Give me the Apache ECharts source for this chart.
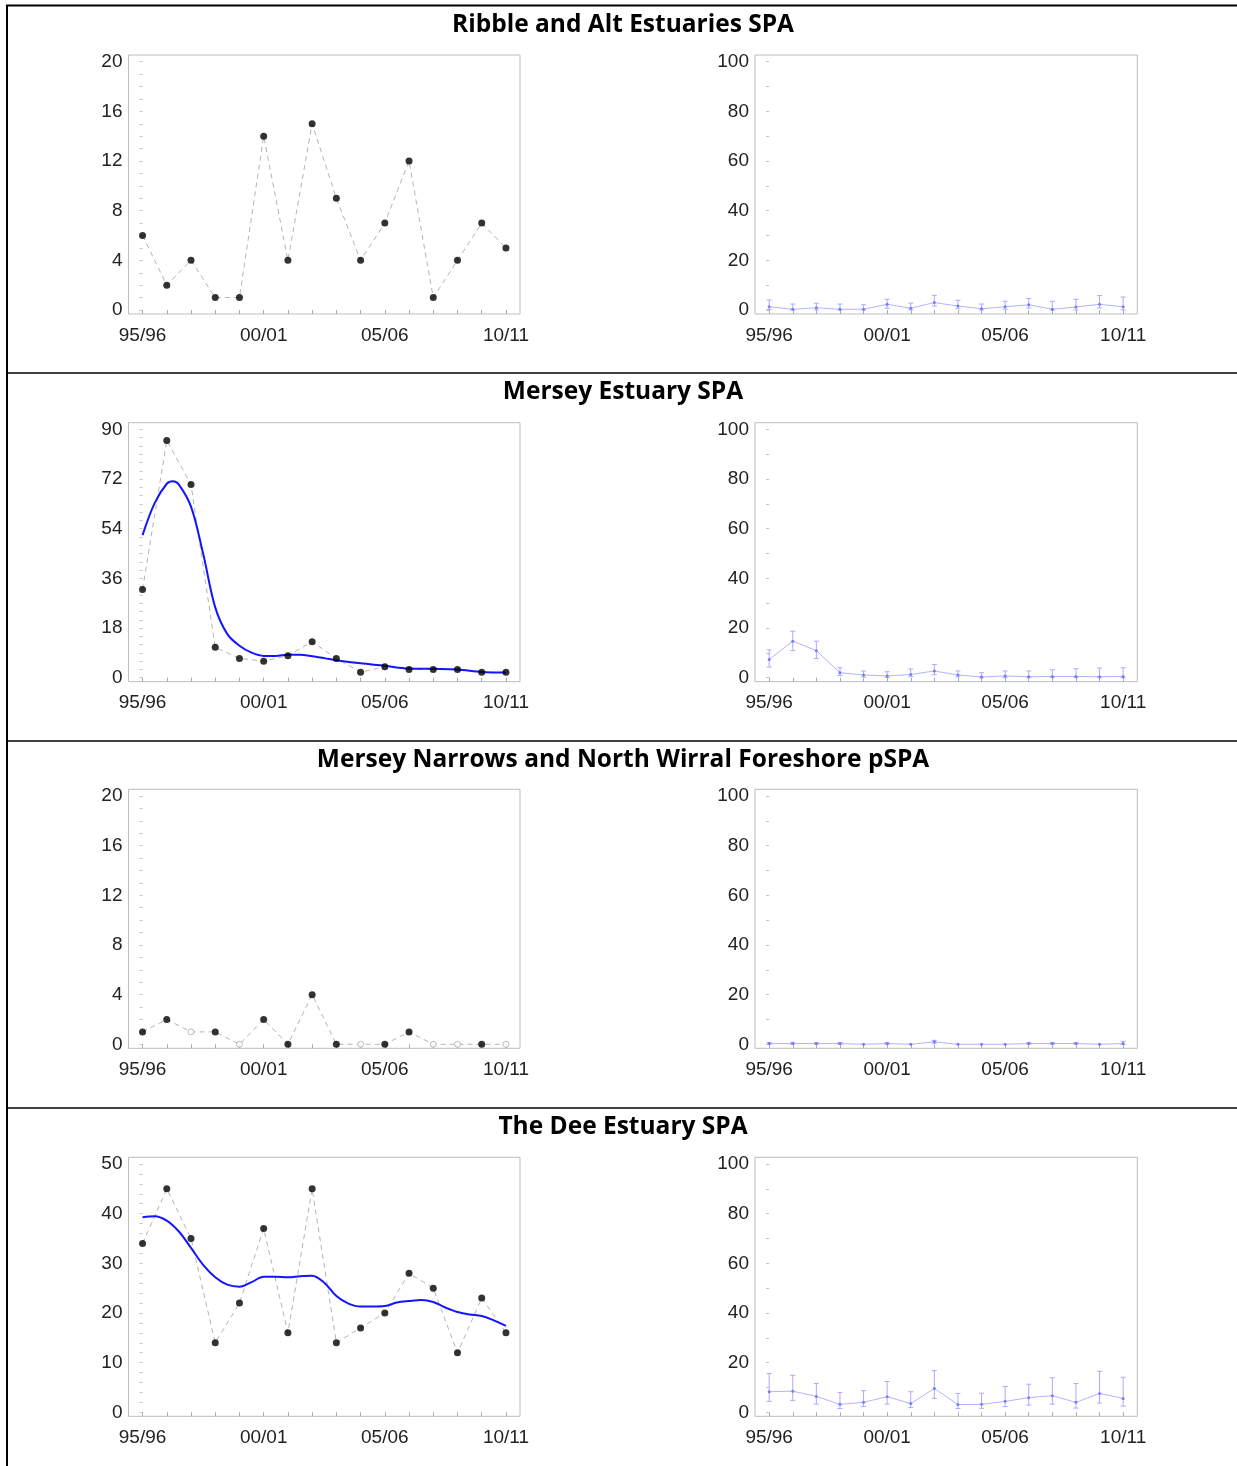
<!DOCTYPE html>
<html>
<head>
<meta charset="utf-8">
<script src="https://cdn.jsdelivr.net/npm/echarts@6/dist/echarts.min.js"></script>
<style>
html,body{margin:0;padding:0;background:#fff;}
#c{width:1237px;height:1466px;}
</style>
</head>
<body>
<div id="c"></div>
<script>
const seasons = ['95/96','96/97','97/98','98/99','99/00','00/01','01/02','02/03','03/04','04/05','05/06','06/07','07/08','08/09','09/10','10/11'];
const xLabelIdx = [0,5,10,15];
const titles = ['Ribble and Alt Estuaries SPA','Mersey Estuary SPA','Mersey Narrows and North Wirral Foreshore pSPA','The Dee Estuary SPA'];

// Left panels: counts
const ribbleCounts = [6,2,4,1,1,14,4,15,9,4,7,12,1,4,7,5];
const merseyCounts = [32,86,70,11,7,6,8,13,7,2,4,3,3,3,2,2];
// smoothed trend (x in season index units)
const merseyTrendX = [0,0.5,1,1.25,1.5,2,2.5,3,3.5,4,4.5,5,5.5,6,6.5,7,7.5,8,9,10,11,12,13,14,15];
const merseyTrend  = [51.7,63.3,70.3,71.2,70.0,62.0,45.0,25.5,15.8,11.6,9.1,7.9,7.9,8.3,8.3,7.8,7.1,6.3,5.2,4.3,3.3,3.2,3.0,2.1,1.9];
const narrowsCounts = [1,2,1,1,0,2,0,4,0,0,0,1,0,0,0,0];
const narrowsImputed = [0,0,1,0,1,0,0,0,0,1,0,0,1,1,0,1];
const deeCounts = [34,45,35,14,22,37,16,45,14,17,20,28,25,12,23,16];
const deeTrendX = [0,0.5,1,1.5,2,2.5,3,3.5,4,4.5,5,5.5,6,6.5,7,7.5,8,8.5,9,9.5,10,10.5,11,11.5,12,12.5,13,13.5,14,14.5,15];
const deeTrend  = [39.3,39.5,38.6,36.4,33.1,29.7,27.2,25.7,25.3,26.2,27.3,27.3,27.2,27.4,27.5,26.1,23.4,21.9,21.3,21.3,21.4,22.1,22.4,22.6,22.2,21.1,20.2,19.7,19.4,18.5,17.4];

// Right panels: percentages with error bars
const ribblePct   = [1.3,0.3,0.9,0.3,0.3,2.3,0.7,3.0,1.6,0.5,1.3,2.1,0.3,1.2,2.3,1.3];
const ribblePctLo = [0.2,0,0,0,0,0.7,0,1.6,0.5,0,0.3,0.8,0,0,0.8,0];
const ribblePctHi = [4.0,2.4,2.7,2.4,2.1,4.3,2.8,5.9,3.9,2.4,3.5,4.6,3.5,4.3,5.8,5.2];
const merseyPct   = [7.3,14.7,10.9,2.0,1.1,0.7,1.3,2.7,1.1,0.3,0.7,0.4,0.5,0.5,0.4,0.5];
const merseyPctLo = [4.3,10.9,7.7,0.9,0.3,0.1,0.4,1.2,0.3,0,0,0,0,0,0,0];
const merseyPctHi = [11.2,18.7,14.7,4.0,2.7,2.4,3.5,5.3,2.7,2.0,2.7,2.7,3.2,3.6,3.9,4.0];
const narrowsPct   = [0.3,0.3,0.3,0.3,0,0.3,0,1.0,0,0,0,0.3,0.3,0.3,0,0.3];
const narrowsPctLo = [0,0,0,0,0,0,0,0.4,0,0,0,0,0,0,0,0];
const narrowsPctHi = [0.7,0.8,0.7,0.7,0,0.7,0,1.6,0,0,0,0.7,0.7,0.7,0,1.2];
const deePct   = [8.3,8.5,6.4,3.2,4.0,6.3,3.5,9.6,3.1,3.2,4.4,5.9,6.7,4.0,7.6,5.6];
const deePctLo = [4.4,4.8,3.3,1.5,2.3,3.3,1.9,5.6,1.5,1.6,2.3,2.9,3.3,1.7,3.7,2.5];
const deePctHi = [15.6,14.9,11.6,8.0,8.7,12.4,8.3,16.8,7.6,7.7,10.4,11.3,13.9,11.6,16.5,14.1];

const leftMax = [20,90,20,50];
const leftStep = [4,18,4,10];
const leftMinor = [1,3,1,2];
const rightMax = [100,100,100,100];
const rightStep = [20,20,20,20];
const rightMinor = [10,10,10,10];

const countsList = [ribbleCounts, merseyCounts, narrowsCounts, deeCounts];
const trendList = [null, merseyTrend, null, deeTrend];
const trendXList = [null, merseyTrendX, null, deeTrendX];
const imputedList = [null, null, narrowsImputed, null];
const pctList = [ribblePct, merseyPct, narrowsPct, deePct];
const pctLoList = [ribblePctLo, merseyPctLo, narrowsPctLo, deePctLo];
const pctHiList = [ribblePctHi, merseyPctHi, narrowsPctHi, deePctHi];

const rowTops = [55, 422.7, 789.3, 1157.3];
const boxH = 259;
const titleY = [25.5, 392.5, 760.5, 1127.5];
const FONT = 'Liberation Sans';

function range(n){ return Array.from({length:n},(_, i)=>i); }
function ticks(max, step){ const a=[]; for(let v=0; v<=max+1e-9; v+=step) a.push(+v.toFixed(6)); return a; }

const grids=[], xAxes=[], yAxes=[], series=[], graphics=[];

function addPanel(row, side){
  const gi = grids.length;
  const isLeft = side==='L';
  const left = isLeft ? 128.5 : 755;
  const width = isLeft ? 391.5 : 382.3;
  grids.push({left:left, top:rowTops[row], width:width, height:boxH, show:true, borderColor:'#bdbdbd', borderWidth:1, backgroundColor:'#fff'});
  const pad = isLeft ? 0.58 : 0.6;
  xAxes.push({
    type:'value', gridIndex:gi, min:-pad, max:15+pad,
    axisLine:{show:false}, splitLine:{show:false},
    axisTick:{show:true, customValues:range(seasons.length), length:4, lineStyle:{color:'#aaa', width:1}},
    axisLabel:{show:true, customValues:xLabelIdx, margin:12, color:'#222', fontFamily:FONT, fontSize:19,
      formatter:(v)=>seasons[Math.round(v)]}
  });
  const M = isLeft ? leftMax[row] : rightMax[row];
  const st = isLeft ? leftStep[row] : rightStep[row];
  const mn = isLeft ? leftMinor[row] : rightMinor[row];
  const span = boxH - 6.7 - 4;
  yAxes.push({
    type:'value', gridIndex:gi, min:-M*4/span, max:M + M*6.7/span,
    axisLine:{show:false}, splitLine:{show:false},
    axisTick:{show:true, customValues:ticks(M, mn), length:3, lineStyle:{color:'#c4c4c4', width:1}},
    axisLabel:{show:true, customValues:ticks(M, st), margin:6, color:'#222', fontFamily:FONT, fontSize:19}
  });
  if(isLeft){
    const counts = countsList[row];
    series.push({type:'line', xAxisIndex:gi, yAxisIndex:gi, data:counts.map((v,i)=>[i,v]), symbol:'none', silent:true,
      lineStyle:{color:'#b4b4b4', width:1, type:[5,4]}, z:2, animation:false});
    const imp = imputedList[row];
    if(trendList[row]){
      const tx = trendXList[row];
      series.push({type:'line', xAxisIndex:gi, yAxisIndex:gi, data:trendList[row].map((v,i)=>[tx[i],v]), symbol:'none', smooth:0.35,
        lineStyle:{color:'#1414ff', width:2}, z:3, animation:false});
    }
    series.push({type:'scatter', xAxisIndex:gi, yAxisIndex:gi,
      data:counts.map((v,i)=>[i,v]).filter((d,i)=>!(imp && imp[i])),
      symbol:'circle', symbolSize:7, itemStyle:{color:'#000'}, z:4, animation:false});
    if(imp){
      series.push({type:'scatter', xAxisIndex:gi, yAxisIndex:gi,
        data:counts.map((v,i)=>[i,v]).filter((d,i)=>imp[i]),
        symbol:'circle', symbolSize:6, itemStyle:{color:'#fff', borderColor:'#aaa', borderWidth:1}, z:4, animation:false});
    }
  } else {
    const p = pctList[row], lo = pctLoList[row], hi = pctHiList[row];
    series.push({type:'line', xAxisIndex:gi, yAxisIndex:gi, data:p.map((v,i)=>[i,v]), symbol:'circle', symbolSize:3,
      itemStyle:{color:'#7a7aff'}, lineStyle:{color:'#b4b4ff', width:1}, z:3, animation:false});
    series.push({type:'custom', xAxisIndex:gi, yAxisIndex:gi, data:p.map((v,i)=>[i,lo[i],hi[i]]), z:2, animation:false,
      renderItem:(params, api)=>{
        const x = api.value(0), l = api.value(1), h = api.value(2);
        if(h - l <= 0) return {type:'group', children:[]};
        const a = api.coord([x,l]), b = api.coord([x,h]);
        const w = 2.5, st = {stroke:'#aaaaff', lineWidth:1};
        return {type:'group', children:[
          {type:'line', shape:{x1:a[0],y1:a[1],x2:b[0],y2:b[1]}, style:st},
          {type:'line', shape:{x1:a[0]-w,y1:a[1],x2:a[0]+w,y2:a[1]}, style:st},
          {type:'line', shape:{x1:b[0]-w,y1:b[1],x2:b[0]+w,y2:b[1]}, style:st}
        ]};
      }});
  }
}

for(let r=0;r<4;r++){ addPanel(r,'L'); addPanel(r,'R'); }

// frame lines
graphics.push({type:'line', shape:{x1:6,y1:5.5,x2:1237,y2:5.5}, style:{stroke:'#000', lineWidth:2}, z:10});
graphics.push({type:'line', shape:{x1:7,y1:5,x2:7,y2:1466}, style:{stroke:'#000', lineWidth:2}, z:10});
[373,741,1108].forEach(y=>graphics.push({type:'line', shape:{x1:7,y1:y,x2:1237,y2:y}, style:{stroke:'#000', lineWidth:1.5}, z:10}));
titles.forEach((t,i)=>graphics.push({type:'text', x:623, y:titleY[i], style:{text:t, fontFamily:'Open Sans', fontWeight:'bold', fontSize:24.5, fill:'#000', textAlign:'center', textVerticalAlign:'middle'}, z:10}));

const chart = echarts.init(document.getElementById('c'), null, {renderer:'canvas'});
chart.setOption({animation:false, grid:grids, xAxis:xAxes, yAxis:yAxes, series:series, graphic:graphics});
</script>
</body>
</html>
